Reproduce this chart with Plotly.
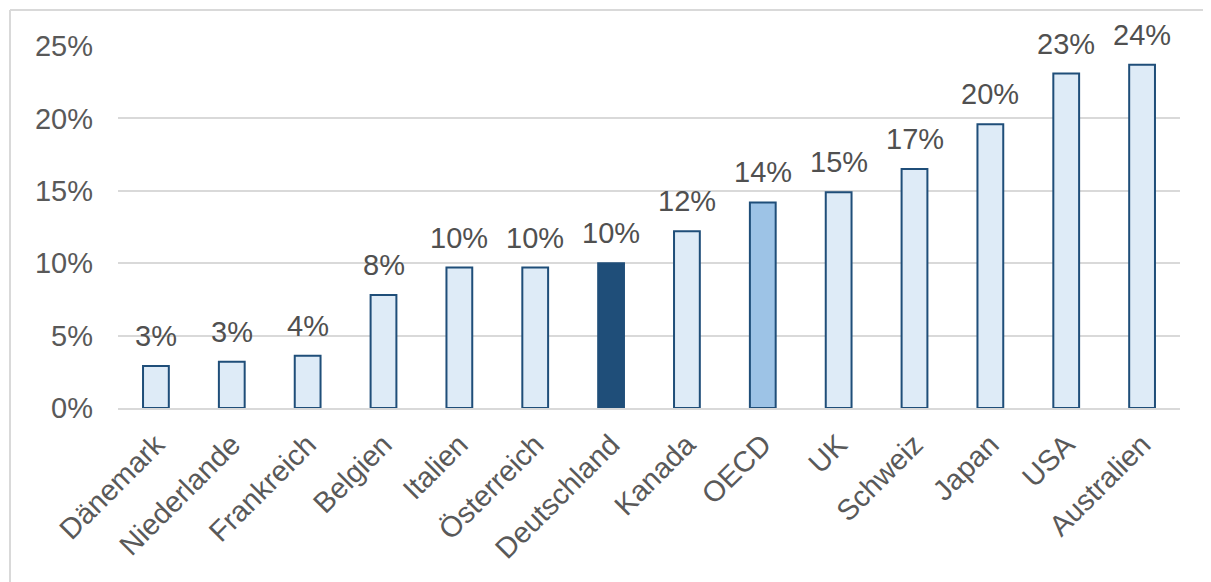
import plotly.graph_objects as go

countries = ["Dänemark", "Niederlande", "Frankreich", "Belgien", "Italien", "Österreich",
             "Deutschland", "Kanada", "OECD", "UK", "Schweiz", "Japan", "USA", "Australien"]
values = [2.9, 3.2, 3.6, 7.8, 9.7, 9.7, 10.0, 12.2, 14.2, 14.9, 16.5, 19.6, 23.1, 23.7]
value_labels = ["3%", "3%", "4%", "8%", "10%", "10%", "10%", "12%", "14%", "15%", "17%", "20%", "23%", "24%"]
y_ticks = [0, 5, 10, 15, 20, 25]
y_tick_labels = ["0%", "5%", "10%", "15%", "20%", "25%"]

light = "#DEEBF7"
dark = "#1F4E79"
mid = "#9DC3E6"
fills = [dark if c == "Deutschland" else (mid if c == "OECD" else light) for c in countries]

fig = go.Figure()
fig.add_trace(go.Bar(
    x=countries, y=values,
    marker=dict(color=fills, line=dict(color=dark, width=2)),
    width=0.34,
))

for c, v, t in zip(countries, values, value_labels):
    fig.add_annotation(x=c, y=v, text=t, showarrow=False, yanchor="bottom", yshift=12,
                       font=dict(family="Liberation Sans, Arial", size=29, color="#505050"))

fig.update_layout(
    width=1211, height=582,
    margin=dict(l=110, r=39, t=38, b=182),
    paper_bgcolor="white", plot_bgcolor="white",
    showlegend=False,
    font=dict(family="Liberation Sans, Arial", color="#595959"),
    yaxis=dict(range=[0, 25], tickvals=y_ticks, ticktext=y_tick_labels,
               showgrid=True, gridcolor="#D9D9D9", gridwidth=2,
               zeroline=False, showline=False,
               tickfont=dict(size=29, color="#595959"), ticks="", ticklabelstandoff=24),
    xaxis=dict(tickangle=-45, tickfont=dict(size=29, color="#595959"),
               showline=True, linecolor="#D9D9D9", linewidth=2, ticks="",
               ticklabelstandoff=6),
    shapes=[
        dict(type="line", xref="paper", yref="paper", x0=-0.1017, x1=1.06, y0=1.0994, y1=1.0994,
             line=dict(color="#D9D9D9", width=2)),
        dict(type="line", xref="paper", yref="paper", x0=-0.1017, x1=-0.1017, y0=1.0994, y1=-0.6,
             line=dict(color="#D9D9D9", width=2)),
    ],
)

fig.write_html("out.html")
